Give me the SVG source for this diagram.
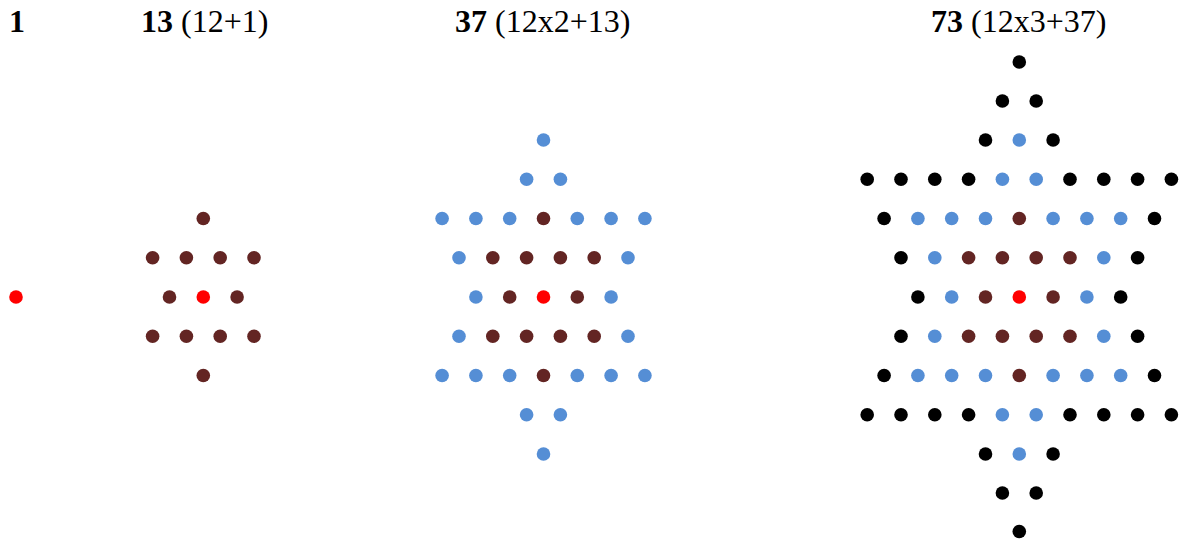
<svg xmlns="http://www.w3.org/2000/svg" width="1179" height="541" viewBox="0 0 1179 541">
<style>
text{font-family:"Liberation Serif","Times New Roman",serif;font-size:32px;fill:#000}
.bd{font-weight:bold}
.k{fill:#000}
.b{fill:#558ED5}
.m{fill:#632523}
.r{fill:#FF0000}
</style>
<g id="titles">
<text x="9" y="32" class="bd">1</text>
<text x="141" y="32"><tspan class="bd">13</tspan> (12+1)</text>
<text x="455" y="32"><tspan class="bd">37</tspan> (12x2+13)</text>
<text x="931" y="32"><tspan class="bd">73</tspan> (12x3+37)</text>
</g>
<g id="star1">
<circle class="r" cx="16" cy="297" r="6.8"/>
</g>
<g id="star13" transform="translate(203.3,297)">
<circle class="m" cx="0" cy="-78.5" r="6.8"/>
<circle class="m" cx="-50.7" cy="-39.25" r="6.8"/><circle class="m" cx="-16.9" cy="-39.25" r="6.8"/><circle class="m" cx="16.9" cy="-39.25" r="6.8"/><circle class="m" cx="50.7" cy="-39.25" r="6.8"/>
<circle class="m" cx="-33.8" cy="0" r="6.8"/><circle class="r" cx="0" cy="0" r="6.8"/><circle class="m" cx="33.8" cy="0" r="6.8"/>
<circle class="m" cx="-50.7" cy="39.25" r="6.8"/><circle class="m" cx="-16.9" cy="39.25" r="6.8"/><circle class="m" cx="16.9" cy="39.25" r="6.8"/><circle class="m" cx="50.7" cy="39.25" r="6.8"/>
<circle class="m" cx="0" cy="78.5" r="6.8"/>
</g>
<g id="star37" transform="translate(543.5,297)">
<circle class="b" cx="0" cy="-157" r="6.8"/>
<circle class="b" cx="-16.9" cy="-117.75" r="6.8"/><circle class="b" cx="16.9" cy="-117.75" r="6.8"/>
<circle class="b" cx="-101.4" cy="-78.5" r="6.8"/><circle class="b" cx="-67.6" cy="-78.5" r="6.8"/><circle class="b" cx="-33.8" cy="-78.5" r="6.8"/><circle class="m" cx="0" cy="-78.5" r="6.8"/><circle class="b" cx="33.8" cy="-78.5" r="6.8"/><circle class="b" cx="67.6" cy="-78.5" r="6.8"/><circle class="b" cx="101.4" cy="-78.5" r="6.8"/>
<circle class="b" cx="-84.5" cy="-39.25" r="6.8"/><circle class="m" cx="-50.7" cy="-39.25" r="6.8"/><circle class="m" cx="-16.9" cy="-39.25" r="6.8"/><circle class="m" cx="16.9" cy="-39.25" r="6.8"/><circle class="m" cx="50.7" cy="-39.25" r="6.8"/><circle class="b" cx="84.5" cy="-39.25" r="6.8"/>
<circle class="b" cx="-67.6" cy="0" r="6.8"/><circle class="m" cx="-33.8" cy="0" r="6.8"/><circle class="r" cx="0" cy="0" r="6.8"/><circle class="m" cx="33.8" cy="0" r="6.8"/><circle class="b" cx="67.6" cy="0" r="6.8"/>
<circle class="b" cx="-84.5" cy="39.25" r="6.8"/><circle class="m" cx="-50.7" cy="39.25" r="6.8"/><circle class="m" cx="-16.9" cy="39.25" r="6.8"/><circle class="m" cx="16.9" cy="39.25" r="6.8"/><circle class="m" cx="50.7" cy="39.25" r="6.8"/><circle class="b" cx="84.5" cy="39.25" r="6.8"/>
<circle class="b" cx="-101.4" cy="78.5" r="6.8"/><circle class="b" cx="-67.6" cy="78.5" r="6.8"/><circle class="b" cx="-33.8" cy="78.5" r="6.8"/><circle class="m" cx="0" cy="78.5" r="6.8"/><circle class="b" cx="33.8" cy="78.5" r="6.8"/><circle class="b" cx="67.6" cy="78.5" r="6.8"/><circle class="b" cx="101.4" cy="78.5" r="6.8"/>
<circle class="b" cx="-16.9" cy="117.75" r="6.8"/><circle class="b" cx="16.9" cy="117.75" r="6.8"/>
<circle class="b" cx="0" cy="157" r="6.8"/>
</g>
<g id="star73" transform="translate(1019.3,297)">
<circle class="k" cx="0" cy="-235" r="6.8"/>
<circle class="k" cx="-16.9" cy="-196" r="6.8"/><circle class="k" cx="16.9" cy="-196" r="6.8"/>
<circle class="k" cx="-33.8" cy="-157" r="6.8"/><circle class="b" cx="0" cy="-157" r="6.8"/><circle class="k" cx="33.8" cy="-157" r="6.8"/>
<circle class="k" cx="-152.1" cy="-117.75" r="6.8"/><circle class="k" cx="-118.3" cy="-117.75" r="6.8"/><circle class="k" cx="-84.5" cy="-117.75" r="6.8"/><circle class="k" cx="-50.7" cy="-117.75" r="6.8"/><circle class="b" cx="-16.9" cy="-117.75" r="6.8"/><circle class="b" cx="16.9" cy="-117.75" r="6.8"/><circle class="k" cx="50.7" cy="-117.75" r="6.8"/><circle class="k" cx="84.5" cy="-117.75" r="6.8"/><circle class="k" cx="118.3" cy="-117.75" r="6.8"/><circle class="k" cx="152.1" cy="-117.75" r="6.8"/>
<circle class="k" cx="-135.2" cy="-78.5" r="6.8"/><circle class="b" cx="-101.4" cy="-78.5" r="6.8"/><circle class="b" cx="-67.6" cy="-78.5" r="6.8"/><circle class="b" cx="-33.8" cy="-78.5" r="6.8"/><circle class="m" cx="0" cy="-78.5" r="6.8"/><circle class="b" cx="33.8" cy="-78.5" r="6.8"/><circle class="b" cx="67.6" cy="-78.5" r="6.8"/><circle class="b" cx="101.4" cy="-78.5" r="6.8"/><circle class="k" cx="135.2" cy="-78.5" r="6.8"/>
<circle class="k" cx="-118.3" cy="-39.25" r="6.8"/><circle class="b" cx="-84.5" cy="-39.25" r="6.8"/><circle class="m" cx="-50.7" cy="-39.25" r="6.8"/><circle class="m" cx="-16.9" cy="-39.25" r="6.8"/><circle class="m" cx="16.9" cy="-39.25" r="6.8"/><circle class="m" cx="50.7" cy="-39.25" r="6.8"/><circle class="b" cx="84.5" cy="-39.25" r="6.8"/><circle class="k" cx="118.3" cy="-39.25" r="6.8"/>
<circle class="k" cx="-101.4" cy="0" r="6.8"/><circle class="b" cx="-67.6" cy="0" r="6.8"/><circle class="m" cx="-33.8" cy="0" r="6.8"/><circle class="r" cx="0" cy="0" r="6.8"/><circle class="m" cx="33.8" cy="0" r="6.8"/><circle class="b" cx="67.6" cy="0" r="6.8"/><circle class="k" cx="101.4" cy="0" r="6.8"/>
<circle class="k" cx="-118.3" cy="39.25" r="6.8"/><circle class="b" cx="-84.5" cy="39.25" r="6.8"/><circle class="m" cx="-50.7" cy="39.25" r="6.8"/><circle class="m" cx="-16.9" cy="39.25" r="6.8"/><circle class="m" cx="16.9" cy="39.25" r="6.8"/><circle class="m" cx="50.7" cy="39.25" r="6.8"/><circle class="b" cx="84.5" cy="39.25" r="6.8"/><circle class="k" cx="118.3" cy="39.25" r="6.8"/>
<circle class="k" cx="-135.2" cy="78.5" r="6.8"/><circle class="b" cx="-101.4" cy="78.5" r="6.8"/><circle class="b" cx="-67.6" cy="78.5" r="6.8"/><circle class="b" cx="-33.8" cy="78.5" r="6.8"/><circle class="m" cx="0" cy="78.5" r="6.8"/><circle class="b" cx="33.8" cy="78.5" r="6.8"/><circle class="b" cx="67.6" cy="78.5" r="6.8"/><circle class="b" cx="101.4" cy="78.5" r="6.8"/><circle class="k" cx="135.2" cy="78.5" r="6.8"/>
<circle class="k" cx="-152.1" cy="117.75" r="6.8"/><circle class="k" cx="-118.3" cy="117.75" r="6.8"/><circle class="k" cx="-84.5" cy="117.75" r="6.8"/><circle class="k" cx="-50.7" cy="117.75" r="6.8"/><circle class="b" cx="-16.9" cy="117.75" r="6.8"/><circle class="b" cx="16.9" cy="117.75" r="6.8"/><circle class="k" cx="50.7" cy="117.75" r="6.8"/><circle class="k" cx="84.5" cy="117.75" r="6.8"/><circle class="k" cx="118.3" cy="117.75" r="6.8"/><circle class="k" cx="152.1" cy="117.75" r="6.8"/>
<circle class="k" cx="-33.8" cy="157" r="6.8"/><circle class="b" cx="0" cy="157" r="6.8"/><circle class="k" cx="33.8" cy="157" r="6.8"/>
<circle class="k" cx="-16.9" cy="196" r="6.8"/><circle class="k" cx="16.9" cy="196" r="6.8"/>
<circle class="k" cx="0" cy="234.5" r="6.8"/>
</g>
</svg>
